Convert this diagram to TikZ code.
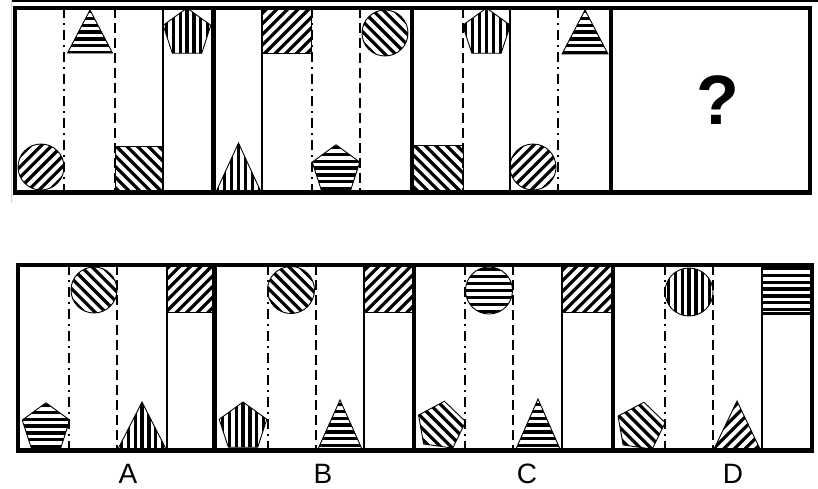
\documentclass[tikz,border=0pt]{standalone}
\usepackage{fontspec}
\setmainfont{Liberation Sans}
\tikzset{
 hl/.style={line width=3.2pt, black},
 outl/.style={line width=0.9pt, black},
 border/.style={line width=4.5pt, black},
 solidline/.style={line width=1.5pt, black},
 dashdotline/.style={line width=1.8pt, black, dash pattern=on 10pt off 5pt on 2pt off 5pt},
 dashedline/.style={line width=1.8pt, black, dash pattern=on 10pt off 5pt},
 lbl/.style={anchor=base, font=\fontsize{28}{32}\selectfont},
}
\newcommand\PentPath[4]{({#1+#3*sin(#4)},{#2-#3*cos(#4)}) -- ({#1+#3*sin(#4+72)},{#2-#3*cos(#4+72)}) -- ({#1+#3*sin(#4+144)},{#2-#3*cos(#4+144)}) -- ({#1+#3*sin(#4+216)},{#2-#3*cos(#4+216)}) -- ({#1+#3*sin(#4+288)},{#2-#3*cos(#4+288)}) -- cycle}
% #1 kind: 0 horizontal, 1 vertical, 2 "/", 3 "\" ; #2,#3 centre ; #4 path
\newcommand\HatchShape[4]{%
  \begin{scope}
    \clip #4;
    \foreach \k in {-8,...,8}{%
      \ifcase#1\relax
        \draw[hl] ({#2-45},{#3+\k*6.9}) -- ({#2+45},{#3+\k*6.9});
      \or
        \draw[hl] ({#2+\k*6.9},{#3-45}) -- ({#2+\k*6.9},{#3+45});
      \or
        \draw[hl] ({#2-60+\k*10.6},{#3+60}) -- ({#2+60+\k*10.6},{#3-60});
      \or
        \draw[hl] ({#2-60+\k*10.6},{#3-60}) -- ({#2+60+\k*10.6},{#3+60});
      \fi
    }
  \end{scope}
  \draw[outl] #4;
}
\begin{document}
\begin{tikzpicture}[x=1pt,y=-1pt]
\useasboundingbox (0,0) rectangle (818,488);
\fill[white] (0,0) rectangle (818,488);
% scan artefacts at the edge
\draw[line width=2pt] (11,1) -- (818,1);
\draw[line width=1.2pt, blue!20] (11.5,0) -- (11.5,203);

% ---------------- top row ----------------
% panel 1
\begin{scope}
\clip (15,8) rectangle (213.5,192.5);
\HatchShape{2}{41}{167}{(41,167) circle[radius=23pt]}
\HatchShape{0}{90}{32}{(67.5,53) -- (90,10) -- (112.5,53) -- cycle}
\HatchShape{3}{139}{169}{(115,146) rectangle (163,192)}
\HatchShape{1}{187}{33}{\PentPath{187}{33}{25}{0}}
\end{scope}
\draw[dashdotline] (64,8) -- (64,192.5);
\draw[dashedline] (115,8) -- (115,192.5);
\draw[solidline] (163,8) -- (163,192.5);
% panel 2
\begin{scope}
\clip (213.5,8) rectangle (412,192.5);
\HatchShape{1}{238.5}{168}{(216,192) -- (238.5,143) -- (261,192) -- cycle}
\HatchShape{2}{287}{31}{(262,8) rectangle (311.5,53)}
\HatchShape{0}{336}{168}{\PentPath{336}{169.8}{25}{0}}
\HatchShape{3}{385}{33}{(385,33) circle[radius=23pt]}
\end{scope}
\draw[solidline] (262,8) -- (262,192.5);
\draw[dashdotline] (312,8) -- (312,192.5);
\draw[dashedline] (360,8) -- (360,192.5);
% panel 3
\begin{scope}
\clip (412,8) rectangle (611,192.5);
\HatchShape{3}{438}{169}{(412,145) rectangle (463,192)}
\HatchShape{1}{486.5}{33}{\PentPath{486.5}{33}{25}{0}}
\HatchShape{2}{533}{167}{(533,167) circle[radius=23pt]}
\HatchShape{0}{585}{32}{(562,54) -- (585,10) -- (608,54) -- cycle}
\end{scope}
\draw[dashedline] (463,8) -- (463,192.5);
\draw[solidline] (510,8) -- (510,192.5);
\draw[dashdotline] (558,8) -- (558,192.5);
% panel 4
\node[font=\fontsize{70}{80}\selectfont\bfseries] (qmark) at (718,100) {?};
% borders
\draw[border] (15,8) rectangle (810,192.5);
\foreach \x in {213.5,412,611} \draw[border] (\x,8) -- (\x,192.5);

% ---------------- bottom row ----------------
% A
\begin{scope}
\clip (18,265) rectangle (214.5,450.5);
\HatchShape{0}{46}{426}{\PentPath{46}{427.8}{25}{0}}
\HatchShape{3}{94}{290}{(94,290) circle[radius=23pt]}
\HatchShape{1}{142}{426}{(118,449) -- (142,402) -- (166,449) -- cycle}
\HatchShape{2}{190}{288}{(167,265) rectangle (214.5,312)}
\end{scope}
\draw[dashdotline] (69,265) -- (69,450.5);
\draw[dashedline] (117,265) -- (117,450.5);
\draw[solidline] (167,265) -- (167,450.5);
% B
\begin{scope}
\clip (214.5,265) rectangle (414,450.5);
\HatchShape{1}{243}{426}{\PentPath{243}{427}{25}{0}}
\HatchShape{3}{291}{290}{(291,290) circle[radius=23.5pt]}
\HatchShape{0}{340}{425}{(318,449) -- (340,400) -- (362,449) -- cycle}
\HatchShape{2}{389}{288}{(364,265) rectangle (414,312)}
\end{scope}
\draw[dashdotline] (268,265) -- (268,450.5);
\draw[dashedline] (316,265) -- (316,450.5);
\draw[solidline] (364,265) -- (364,450.5);
% C
\begin{scope}
\clip (414,265) rectangle (613,450.5);
\HatchShape{3}{441}{426}{\PentPath{441}{426}{25}{8}}
\HatchShape{0}{489}{290.5}{(489,290.5) circle[radius=23.5pt]}
\HatchShape{0}{538}{425}{(516,449) -- (538,399) -- (560,449) -- cycle}
\HatchShape{2}{587}{288}{(562,265) rectangle (613,312)}
\end{scope}
\draw[dashdotline] (465,265) -- (465,450.5);
\draw[dashedline] (513,265) -- (513,450.5);
\draw[solidline] (562,265) -- (562,450.5);
% D
\begin{scope}
\clip (613,265) rectangle (812,450.5);
\HatchShape{3}{640.5}{427}{\PentPath{640.5}{427}{25}{8}}
\HatchShape{1}{689}{292}{(689,292) circle[radius=24pt]}
\HatchShape{2}{737}{425}{(714,449) -- (737,401) -- (760,449) -- cycle}
\HatchShape{0}{787}{289}{(762,265) rectangle (812,314)}
\draw[line width=3pt] (762,313) -- (812,313);
\end{scope}
\draw[dashdotline] (665,265) -- (665,450.5);
\draw[dashedline] (713,265) -- (713,450.5);
\draw[solidline] (762,265) -- (762,450.5);
% borders
\draw[border] (18,265) rectangle (812,450.5);
\foreach \x in {214.5,414,613} \draw[border] (\x,265) -- (\x,450.5);

% labels
\node[lbl] (labA) at (128,483) {A};
\node[lbl] (labB) at (323,483) {B};
\node[lbl] (labC) at (527,483) {C};
\node[lbl] (labD) at (733,483) {D};
\end{tikzpicture}
\end{document}
